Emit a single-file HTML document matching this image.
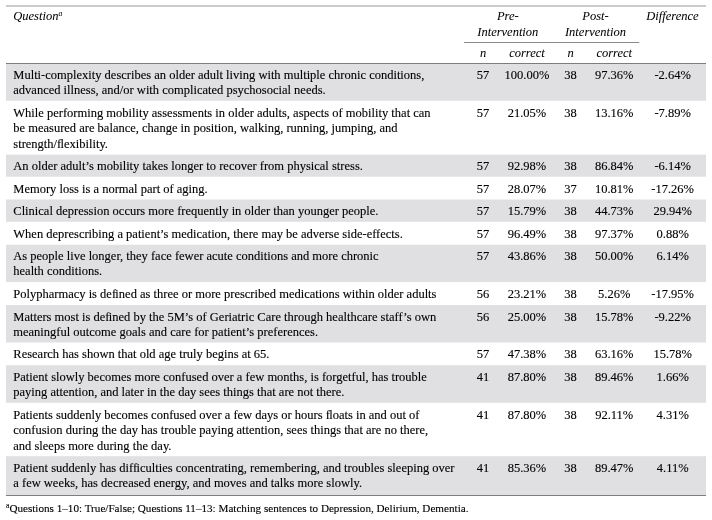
<!DOCTYPE html>
<html><head><meta charset="utf-8">
<style>
html,body{margin:0;padding:0;background:#fff;}
body{width:712px;height:520px;overflow:hidden;position:relative;will-change:transform;font-family:"Liberation Serif",serif;font-size:12.5px;line-height:15.2px;color:#000;-webkit-text-stroke:0.12px #000;}
div{position:absolute;white-space:nowrap;}
.s{background:#e0e0e2;left:6px;width:700px;}
.c{width:80px;text-align:center;}
.i{font-style:italic;-webkit-text-stroke:0.04px #000;}
.l{letter-spacing:-0.7px;}
</style></head><body>
<svg width="712" height="520" style="position:absolute;left:0;top:0"><rect x="6" y="5.1" width="700" height="1.8" fill="#c6c6c6"/><rect x="6" y="63" width="700" height="1" fill="#7d7d7d"/><rect x="464" y="42" width="175.2" height="1" fill="#8a8a8a"/><rect x="6" y="64" width="700" height="36.80" fill="#e0e0e2"/><rect x="6" y="154.6" width="700" height="22.10" fill="#e0e0e2"/><rect x="6" y="199.5" width="700" height="22.30" fill="#e0e0e2"/><rect x="6" y="244.75" width="700" height="37.35" fill="#e0e0e2"/><rect x="6" y="305" width="700" height="37.50" fill="#e0e0e2"/><rect x="6" y="365.2" width="700" height="37.60" fill="#e0e0e2"/><rect x="6" y="456.2" width="700" height="38.80" fill="#e0e0e2"/><rect x="6" y="495" width="700" height="1" fill="#7d7d7d"/></svg>
<div class="i" style="left:13.3px;top:8.7px">Question<span style="font-size:7.5px;position:relative;top:-4px">a</span></div>
<div class="i c" style="left:467.8px;top:8.7px">Pre-</div>
<div class="i c" style="left:467.8px;top:24.7px">Intervention</div>
<div class="i c" style="left:555.5px;top:8.7px">Post-</div>
<div class="i c" style="left:555.5px;top:24.7px">Intervention</div>
<div class="i c" style="left:632.5px;top:8.7px">Difference</div>
<div class="i c" style="left:443px;top:46px">n</div>
<div class="i c" style="left:487px;top:46px">correct</div>
<div class="i c" style="left:530.5px;top:46px">n</div>
<div class="i c" style="left:574.25px;top:46px">correct</div>
<div style="left:13.3px;top:67.50px">Multi-complexity describes an older adult living with multiple chronic conditions,</div>
<div style="left:13.3px;top:82.50px">advanced illness, and/or with complicated psychosocial needs.</div>
<div class="c" style="left:443px;top:67.50px">57</div>
<div class="c" style="left:487px;top:67.50px">100.00%</div>
<div class="c" style="left:530.5px;top:67.50px">38</div>
<div class="c" style="left:574.25px;top:67.50px">97.36%</div>
<div class="c" style="left:632.7px;top:67.50px">-2.64%</div>
<div style="left:13.3px;top:105.50px">While performing mobility assessments in older adults, aspects of mobility that can</div>
<div style="left:13.3px;top:120.50px">be measured are balance, change in position, walking, running, jumping, and</div>
<div style="left:13.3px;top:136.50px">strength/<span class="l">f</span>lexibility.</div>
<div class="c" style="left:443px;top:105.50px">57</div>
<div class="c" style="left:487px;top:105.50px">21.05%</div>
<div class="c" style="left:530.5px;top:105.50px">38</div>
<div class="c" style="left:574.25px;top:105.50px">13.16%</div>
<div class="c" style="left:632.7px;top:105.50px">-7.89%</div>
<div style="left:13.3px;top:158.50px">An older adult’s mobility takes longer to recover from physical stress.</div>
<div class="c" style="left:443px;top:158.50px">57</div>
<div class="c" style="left:487px;top:158.50px">92.98%</div>
<div class="c" style="left:530.5px;top:158.50px">38</div>
<div class="c" style="left:574.25px;top:158.50px">86.84%</div>
<div class="c" style="left:632.7px;top:158.50px">-6.14%</div>
<div style="left:13.3px;top:181.50px">Memory loss is a normal part of aging.</div>
<div class="c" style="left:443px;top:181.50px">57</div>
<div class="c" style="left:487px;top:181.50px">28.07%</div>
<div class="c" style="left:530.5px;top:181.50px">37</div>
<div class="c" style="left:574.25px;top:181.50px">10.81%</div>
<div class="c" style="left:632.7px;top:181.50px">-17.26%</div>
<div style="left:13.3px;top:203.50px">Clinical depression occurs more frequently in older than younger people.</div>
<div class="c" style="left:443px;top:203.50px">57</div>
<div class="c" style="left:487px;top:203.50px">15.79%</div>
<div class="c" style="left:530.5px;top:203.50px">38</div>
<div class="c" style="left:574.25px;top:203.50px">44.73%</div>
<div class="c" style="left:632.7px;top:203.50px">29.94%</div>
<div style="left:13.3px;top:226.50px">When deprescribing a patient’s medication, there may be adverse side-effects.</div>
<div class="c" style="left:443px;top:226.50px">57</div>
<div class="c" style="left:487px;top:226.50px">96.49%</div>
<div class="c" style="left:530.5px;top:226.50px">38</div>
<div class="c" style="left:574.25px;top:226.50px">97.37%</div>
<div class="c" style="left:632.7px;top:226.50px">0.88%</div>
<div style="left:13.3px;top:248.50px">As people live longer, they face fewer acute conditions and more chronic</div>
<div style="left:13.3px;top:263.50px">health conditions.</div>
<div class="c" style="left:443px;top:248.50px">57</div>
<div class="c" style="left:487px;top:248.50px">43.86%</div>
<div class="c" style="left:530.5px;top:248.50px">38</div>
<div class="c" style="left:574.25px;top:248.50px">50.00%</div>
<div class="c" style="left:632.7px;top:248.50px">6.14%</div>
<div style="left:13.3px;top:286.50px">Polypharmacy is de<span class="l">f</span>ined as three or more prescribed medications within older adults</div>
<div class="c" style="left:443px;top:286.50px">56</div>
<div class="c" style="left:487px;top:286.50px">23.21%</div>
<div class="c" style="left:530.5px;top:286.50px">38</div>
<div class="c" style="left:574.25px;top:286.50px">5.26%</div>
<div class="c" style="left:632.7px;top:286.50px">-17.95%</div>
<div style="left:13.3px;top:309.50px">Matters most is de<span class="l">f</span>ined by the 5M’s of Geriatric Care through healthcare staff’s own</div>
<div style="left:13.3px;top:324.50px">meaningful outcome goals and care for patient’s preferences.</div>
<div class="c" style="left:443px;top:309.50px">56</div>
<div class="c" style="left:487px;top:309.50px">25.00%</div>
<div class="c" style="left:530.5px;top:309.50px">38</div>
<div class="c" style="left:574.25px;top:309.50px">15.78%</div>
<div class="c" style="left:632.7px;top:309.50px">-9.22%</div>
<div style="left:13.3px;top:346.50px">Research has shown that old age truly begins at 65.</div>
<div class="c" style="left:443px;top:346.50px">57</div>
<div class="c" style="left:487px;top:346.50px">47.38%</div>
<div class="c" style="left:530.5px;top:346.50px">38</div>
<div class="c" style="left:574.25px;top:346.50px">63.16%</div>
<div class="c" style="left:632.7px;top:346.50px">15.78%</div>
<div style="left:13.3px;top:369.50px">Patient slowly becomes more confused over a few months, is forgetful, has trouble</div>
<div style="left:13.3px;top:384.50px">paying attention, and later in the day sees things that are not there.</div>
<div class="c" style="left:443px;top:369.50px">41</div>
<div class="c" style="left:487px;top:369.50px">87.80%</div>
<div class="c" style="left:530.5px;top:369.50px">38</div>
<div class="c" style="left:574.25px;top:369.50px">89.46%</div>
<div class="c" style="left:632.7px;top:369.50px">1.66%</div>
<div style="left:13.3px;top:407.50px">Patients suddenly becomes confused over a few days or hours <span class="l">f</span>loats in and out of</div>
<div style="left:13.3px;top:422.50px">confusion during the day has trouble paying attention, sees things that are no there,</div>
<div style="left:13.3px;top:438.50px">and sleeps more during the day.</div>
<div class="c" style="left:443px;top:407.50px">41</div>
<div class="c" style="left:487px;top:407.50px">87.80%</div>
<div class="c" style="left:530.5px;top:407.50px">38</div>
<div class="c" style="left:574.25px;top:407.50px">92.11%</div>
<div class="c" style="left:632.7px;top:407.50px">4.31%</div>
<div style="left:13.3px;top:460.50px">Patient suddenly has dif<span class="l">f</span>iculties concentrating, remembering, and troubles sleeping over</div>
<div style="left:13.3px;top:475.50px">a few weeks, has decreased energy, and moves and talks more slowly.</div>
<div class="c" style="left:443px;top:460.50px">41</div>
<div class="c" style="left:487px;top:460.50px">85.36%</div>
<div class="c" style="left:530.5px;top:460.50px">38</div>
<div class="c" style="left:574.25px;top:460.50px">89.47%</div>
<div class="c" style="left:632.7px;top:460.50px">4.11%</div>
<div style="left:6px;top:500.5px;font-size:11.15px;line-height:14px"><span style="font-size:7.6px;position:relative;top:-3.2px">a</span>Questions 1–10: True/False; Questions 11–13: Matching sentences to Depression, Delirium, Dementia.</div>
</body></html>
